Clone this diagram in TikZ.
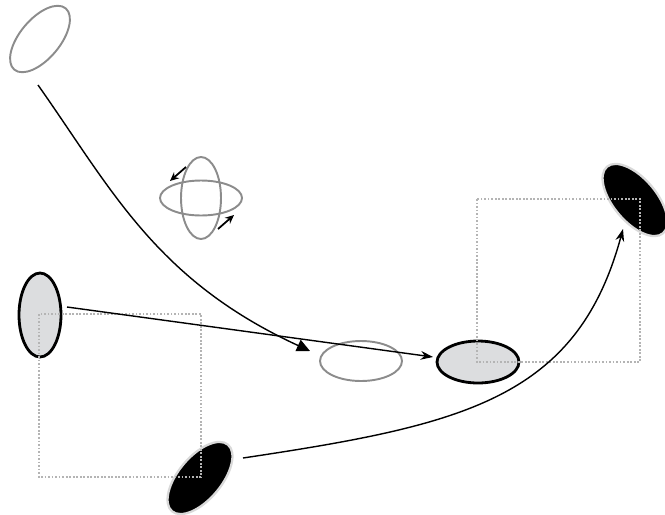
\documentclass[tikz,border=0pt]{standalone}
\usetikzlibrary{positioning,arrows.meta,shapes.geometric,calc}
\definecolor{EllGray}{HTML}{8C8C8C}
\definecolor{EllFill}{HTML}{DCDDDF}
\definecolor{BoxDot}{HTML}{B4B4B4}
\begin{document}
\begin{tikzpicture}[
  x=0.02cm, y=-0.02cm,
  ell/.style={ellipse, inner sep=0pt, line width=1.1pt},
  hollow/.style={ell, draw=EllGray},
  lightell/.style={ell, draw=black, fill=EllFill, line width=1.6pt},
  darkell/.style={ell, fill=black, draw=black!15, line width=1.3pt},
  dotbox/.style={draw=BoxDot, densely dotted, line width=1pt},
  arr/.style={-{Stealth[length=7pt,width=5pt]}, line width=0.8pt},
  bigarr/.style={-{Triangle[length=7.5pt,width=7pt]}, line width=0.8pt},
  spinarr/.style={-{Stealth[length=5pt,width=4.5pt]}, line width=1pt}
]
\useasboundingbox (0,0) rectangle (665,514);

%% ellipses
\node[hollow, minimum width=1.6cm, minimum height=0.8cm, rotate=50] (topell) at (40,39) {};
\node[hollow, minimum width=1.64cm, minimum height=0.7cm] (spinh) at (201,198) {};
\node[hollow, minimum width=0.8cm, minimum height=1.64cm] (spinv) at (201,198) {};
\node[lightell, minimum width=0.84cm, minimum height=1.68cm] (lefte) at (40,315) {};
\node[hollow, minimum width=1.64cm, minimum height=0.8cm] (mide) at (361,361) {};
\node[lightell, minimum width=1.64cm, minimum height=0.84cm] (righte) at (478,362) {};
\node[darkell, minimum width=1.74cm, minimum height=0.86cm, rotate=50] (lowdark) at (200,478) {};
\node[darkell, minimum width=1.74cm, minimum height=0.86cm, rotate=-50] (updark) at (635,200) {};

%% dotted frames on top
\draw[dotbox] (39,314) rectangle (201,477);
\draw[dotbox] (477,199) rectangle (640,362);

%% connector ends
\coordinate (drop) at (38,85);
\coordinate (dropend) at (310,351);
\coordinate (pushstart) at (67,307);
\coordinate (pushend) at (433,357);
\coordinate (swingstart) at (243,458);
\coordinate (swingend) at (623,229);
\coordinate (spinA0) at (186,167);
\coordinate (spinA1) at (170,181);
\coordinate (spinB0) at (218,229);
\coordinate (spinB1) at (234,215);

\draw[bigarr] (drop) .. controls (112,190) and (156,280) .. (dropend);
\draw[arr] (pushstart) -- (pushend);
\draw[arr] (swingstart) .. controls (463,425) and (577,399) .. (swingend);
\draw[spinarr] (spinA0) -- (spinA1);
\draw[spinarr] (spinB0) -- (spinB1);
\end{tikzpicture}
\end{document}
